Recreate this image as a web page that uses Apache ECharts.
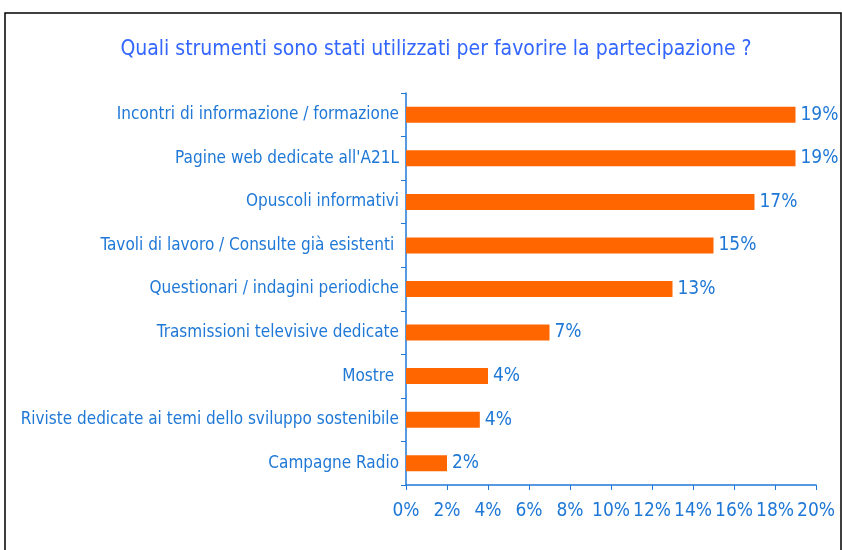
<!DOCTYPE html>
<html>
<head>
<meta charset="utf-8">
<script src="https://cdn.jsdelivr.net/npm/echarts@6/dist/echarts.min.js"></script>
<style>
  html, body { margin: 0; padding: 0; background: #fff; }
  #chart { width: 842px; height: 550px; }
</style>
</head>
<body>
<div id="chart"></div>
<script>
// categorie (dall'alto verso il basso)
var categorie = [
        "Incontri di informazione / formazione",
        "Pagine web dedicate all'A21L",
        "Opuscoli informativi",
        "Tavoli di lavoro / Consulte già esistenti ",
        "Questionari / indagini periodiche",
        "Trasmissioni televisive dedicate",
        "Mostre ",
        "Riviste dedicate ai temi dello sviluppo sostenibile",
        "Campagne Radio"
];
// percentuali
var valori = [19, 19, 17, 15, 13, 7, 4, 3.6, 2];
var ticks = [0, 2, 4, 6, 8, 10, 12, 14, 16, 18, 20];

var font = '"DejaVu Sans Condensed", "Liberation Sans Narrow", sans-serif';
var blu = '#1f78d6';

var chart = echarts.init(document.getElementById('chart'), null, { renderer: 'canvas' });

var option = {
        animation: false,
        graphic: [{
                type: 'rect',
                shape: { x: 5, y: 13, width: 836, height: 560 },
                style: { fill: 'none', stroke: '#000', lineWidth: 1.5 }
        }],
        title: {
                text: 'Quali strumenti sono stati utilizzati per favorire la partecipazione ?',
                left: 431,
                textAlign: 'center',
                top: 34,
                textStyle: {
                        color: '#3366ff',
                        fontFamily: font,
                        fontSize: 21,
                        fontWeight: 'normal'
                }
        },
        grid: {
                left: 406,
                right: 26,
                top: 93,
                bottom: 65,
                containLabel: false,
                outerBoundsMode: 'none'
        },
        xAxis: {
                type: 'value',
                min: 0,
                max: 20,
                interval: 2,
                splitLine: { show: false },
                axisLine: { show: true, lineStyle: { color: blu, width: 1.5 } },
                axisTick: { show: true, length: 5, lineStyle: { color: blu } },
                axisLabel: {
                        color: blu,
                        fontFamily: font,
                        fontSize: 19,
                        margin: 17,
                        formatter: function (v) {
                                return ticks.indexOf(v) >= 0 ? v + '%' : '';
                        }
                }
        },
        yAxis: {
                type: 'category',
                inverse: true,
                data: categorie,
                axisLine: { show: true, lineStyle: { color: blu, width: 1.5 } },
                axisTick: { show: true, length: 5, lineStyle: { color: blu } },
                axisLabel: {
                        color: blu,
                        fontFamily: font,
                        fontSize: 17,
                        margin: 7
                }
        },
        series: [{
                type: 'bar',
                data: valori,
                barWidth: 16,
                itemStyle: { color: '#ff6600' },
                label: {
                        show: true,
                        position: 'right',
                        distance: 5,
                        color: blu,
                        fontFamily: font,
                        fontSize: 19,
                        formatter: function (p) {
                                return Math.round(p.value) + '%';
                        }
                }
        }]
};

chart.setOption(option);
</script>
</body>
</html>
